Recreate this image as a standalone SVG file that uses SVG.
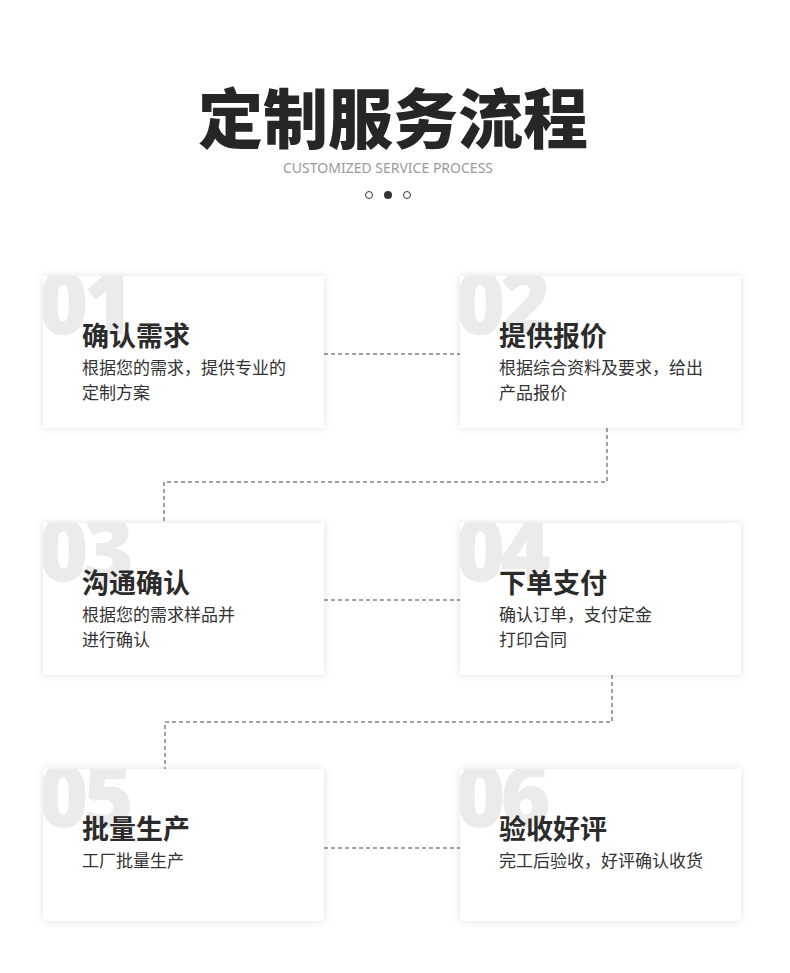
<svg xmlns="http://www.w3.org/2000/svg" width="790" height="973" viewBox="0 0 790 973">
<style>
.card{fill:#fff}
.num{font-family:"Open Sans","Noto Sans",sans-serif;font-weight:800;font-size:86px;fill:#ebebeb;letter-spacing:-5px}
.ttl{font-family:"Noto Sans CJK SC",sans-serif;font-weight:700;font-size:27px;fill:#2b2b2b}
.desc{font-family:"Noto Sans CJK SC",sans-serif;font-weight:400;font-size:17px;fill:#333}
.conn{fill:none;stroke:#444;stroke-width:1;stroke-dasharray:4 3}
</style>
<defs>
<filter id="sh" x="-10%" y="-15%" width="120%" height="130%">
<feGaussianBlur in="SourceAlpha" stdDeviation="5"/>
<feComponentTransfer><feFuncA type="linear" slope="0.12"/></feComponentTransfer>
<feMerge><feMergeNode/><feMergeNode in="SourceGraphic"/></feMerge>
</filter>
<clipPath id="c1"><rect x="43" y="276" width="281" height="152"/></clipPath>
<clipPath id="c2"><rect x="460" y="276" width="281" height="152"/></clipPath>
<clipPath id="c3"><rect x="43" y="523" width="281" height="152"/></clipPath>
<clipPath id="c4"><rect x="460" y="523" width="281" height="152"/></clipPath>
<clipPath id="c5"><rect x="43" y="769" width="281" height="152"/></clipPath>
<clipPath id="c6"><rect x="460" y="769" width="281" height="152"/></clipPath>
</defs>
<rect width="790" height="973" fill="#fff"/>
<g id="header">
<text x="393" y="143" text-anchor="middle" font-family="Noto Sans CJK SC,sans-serif" font-weight="900" font-size="65" fill="#262626">定制服务流程</text>
<text x="388" y="173" text-anchor="middle" font-family="Noto Sans,sans-serif" font-size="14" fill="#9a9a9a">CUSTOMIZED SERVICE PROCESS</text>
<circle cx="369" cy="195" r="3.5" fill="none" stroke="#333" stroke-width="1"/>
<circle cx="388" cy="195" r="4" fill="#333"/>
<circle cx="407" cy="195" r="3.5" fill="none" stroke="#333" stroke-width="1"/>
</g>
<g id="connectors">
<path class="conn" d="M324 354H460"/>
<path class="conn" d="M607 428V482H164V523"/>
<path class="conn" d="M324 600H460"/>
<path class="conn" d="M612 675V722H165V769"/>
<path class="conn" d="M324 848H460"/>
</g>
<g id="node1">
<rect class="card" x="43" y="276" width="281" height="152" filter="url(#sh)"/>
<text class="num" x="38" y="334" clip-path="url(#c1)">01</text>
<text class="ttl" x="82" y="346">确认需求</text>
<text class="desc" x="82" y="374">根据您的需求，提供专业的</text>
<text class="desc" x="82" y="399">定制方案</text>
</g>
<g id="node2">
<rect class="card" x="460" y="276" width="281" height="152" filter="url(#sh)"/>
<text class="num" x="455" y="334" clip-path="url(#c2)">02</text>
<text class="ttl" x="499" y="346">提供报价</text>
<text class="desc" x="499" y="374">根据综合资料及要求，给出</text>
<text class="desc" x="499" y="399">产品报价</text>
</g>
<g id="node3">
<rect class="card" x="43" y="523" width="281" height="152" filter="url(#sh)"/>
<text class="num" x="38" y="581" clip-path="url(#c3)">03</text>
<text class="ttl" x="82" y="593">沟通确认</text>
<text class="desc" x="82" y="621">根据您的需求样品并</text>
<text class="desc" x="82" y="646">进行确认</text>
</g>
<g id="node4">
<rect class="card" x="460" y="523" width="281" height="152" filter="url(#sh)"/>
<text class="num" x="455" y="581" clip-path="url(#c4)">04</text>
<text class="ttl" x="499" y="593">下单支付</text>
<text class="desc" x="499" y="621">确认订单，支付定金</text>
<text class="desc" x="499" y="646">打印合同</text>
</g>
<g id="node5">
<rect class="card" x="43" y="769" width="281" height="152" filter="url(#sh)"/>
<text class="num" x="38" y="827" clip-path="url(#c5)">05</text>
<text class="ttl" x="82" y="839">批量生产</text>
<text class="desc" x="82" y="867">工厂批量生产</text>
</g>
<g id="node6">
<rect class="card" x="460" y="769" width="281" height="152" filter="url(#sh)"/>
<text class="num" x="455" y="827" clip-path="url(#c6)">06</text>
<text class="ttl" x="499" y="839">验收好评</text>
<text class="desc" x="499" y="867">完工后验收，好评确认收货</text>
</g>
</svg>
